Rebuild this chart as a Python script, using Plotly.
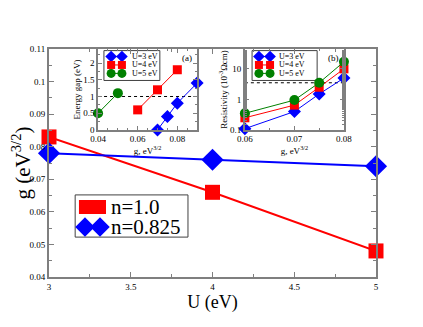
import plotly.graph_objects as go

# main panel: g versus U
U = [3, 4, 5]
g_n10 = [0.083, 0.066, 0.048]
g_n0825 = [0.078, 0.076, 0.074]
main_labels = ["n=1.0", "n=0.825"]

# inset (a): energy gap versus g
gap_g_U3 = [0.07, 0.075, 0.08, 0.09]
gap_U3 = [0.0, 0.4, 0.8, 1.4]
gap_g_U4 = [0.06, 0.07, 0.08]
gap_U4 = [0.6, 1.2, 1.8]
gap_g_U5 = [0.04, 0.05]
gap_U5 = [0.5, 1.1]
gap_ref = 1.0

# inset (b): resistivity versus g
res_g = [0.06, 0.07, 0.075, 0.08]
res_U3 = [0.11, 0.4, 1.5, 5.0]
res_U4 = [0.25, 0.65, 2.5, 10.0]
res_U5 = [0.35, 0.95, 3.5, 17.0]
res_ref = 3.5

inset_labels = ["U=3 eV", "U=4 eV", "U=5 eV"]

RED = "#ff0000"
BLUE = "#0000ff"
GREEN = "#008000"
FONT = "Liberation Serif"
FRAME = "#7f7f7f"

styles = [(BLUE, "diamond", 10), (RED, "square", 9), (GREEN, "circle", 10)]
main_styles = [(RED, "square", 15, 14), (BLUE, "diamond", 17, 15)]

fig = go.Figure()

# main traces
for ys, (col, sym, sz, _) in zip([g_n10, g_n0825], main_styles):
    fig.add_trace(go.Scatter(x=U, y=ys, mode="lines+markers",
                             line=dict(color=col, width=2),
                             marker=dict(symbol=sym, size=sz, color=col),
                             cliponaxis=False, showlegend=False))

# inset (a)
fig.add_trace(go.Scatter(x=[0.04, 0.09], y=[gap_ref, gap_ref], mode="lines",
                         line=dict(color="black", width=1, dash="dot"),
                         showlegend=False, xaxis="x2", yaxis="y2"))
for xs, ys, (col, sym, sz) in zip([gap_g_U3, gap_g_U4, gap_g_U5],
                                  [gap_U3, gap_U4, gap_U5], styles):
    fig.add_trace(go.Scatter(x=xs, y=ys, mode="lines+markers",
                             line=dict(color=col, width=1),
                             marker=dict(symbol=sym, size=sz, color=col),
                             cliponaxis=False, showlegend=False,
                             xaxis="x2", yaxis="y2"))

# inset (b)
fig.add_trace(go.Scatter(x=[0.06, 0.08], y=[res_ref, res_ref], mode="lines",
                         line=dict(color="black", width=1, dash="dot"),
                         showlegend=False, xaxis="x3", yaxis="y3"))
for ys, (col, sym, sz) in zip([res_U3, res_U4, res_U5], styles):
    fig.add_trace(go.Scatter(x=res_g, y=ys, mode="lines+markers",
                             line=dict(color=col, width=1),
                             marker=dict(symbol=sym, size=sz, color=col),
                             cliponaxis=False, showlegend=False,
                             xaxis="x3", yaxis="y3"))

# legends drawn by hand (overlay axis x4/y4 spans the plot area, range 0..1)
shapes = []
annotations = []

# main legend
shapes.append(dict(type="rect", xref="paper", yref="paper",
                   x0=0.080, x1=0.425, y0=0.175, y1=0.360,
                   line=dict(color="#404040", width=1), fillcolor="white",
                   layer="below"))
for yy, (kx0, kx1), lab, (col, sym, _, ksz) in zip([0.307, 0.219],
                                                   [(0.113, 0.153), (0.110, 0.156)],
                                                   main_labels, main_styles):
    fig.add_trace(go.Scatter(x=[kx0, kx1], y=[yy, yy], mode="lines+markers",
                             line=dict(color=col, width=3),
                             marker=dict(symbol=sym, size=ksz, color=col),
                             cliponaxis=False, showlegend=False,
                             xaxis="x4", yaxis="y4", hoverinfo="skip"))
    annotations.append(dict(text=lab, xref="paper", yref="paper", x=0.183, y=yy,
                            xanchor="left", yanchor="middle", showarrow=False,
                            font=dict(size=21)))

# inset legends
row_y = [0.967, 0.930, 0.893]
for (bx0, bx1, kx0, kx1, tx) in [(0.168, 0.339, 0.190, 0.223, 0.247),
                                 (0.621, 0.820, 0.642, 0.676, 0.697)]:
    shapes.append(dict(type="rect", xref="paper", yref="paper",
                       x0=bx0, x1=bx1, y0=0.862, y1=0.993,
                       line=dict(color="#404040", width=1), fillcolor="white",
                       layer="below"))
    for yy, lab, (col, sym, sz) in zip(row_y, inset_labels, styles):
        fig.add_trace(go.Scatter(x=[kx0, kx1], y=[yy, yy], mode="lines+markers",
                                 line=dict(color=col, width=1),
                                 marker=dict(symbol=sym, size=sz - 1, color=col),
                                 cliponaxis=False, showlegend=False,
                                 xaxis="x4", yaxis="y4", hoverinfo="skip"))
        annotations.append(dict(text=lab, xref="paper", yref="paper", x=tx, y=yy,
                                xanchor="left", yanchor="middle", showarrow=False,
                                font=dict(size=8)))

annotations += [
    dict(text="(a)", xref="x2 domain", yref="y2 domain", x=0.97, y=0.97,
         xanchor="right", yanchor="top", showarrow=False, font=dict(size=9)),
    dict(text="(b)", xref="x3 domain", yref="y3 domain", x=0.97, y=0.97,
         xanchor="right", yanchor="top", showarrow=False, font=dict(size=9)),
]

main_ax = dict(showline=True, linecolor=FRAME, linewidth=2, mirror="allticks",
               ticks="inside", ticklen=5, tickcolor=FRAME, showgrid=False,
               zeroline=False, automargin=False,
               tickfont=dict(size=9, family=FONT, color="black"))
inset_ax = dict(showline=True, linecolor=FRAME, linewidth=1.5, mirror="allticks",
                ticks="inside", ticklen=4, tickcolor=FRAME, showgrid=False,
                zeroline=False, automargin=False,
                tickfont=dict(size=9, family=FONT, color="black"))

# the page body keeps an 8px margin, so the figure is 8px smaller than the window
fig.update_layout(
    width=415, height=319,
    margin=dict(l=41, r=47, t=41, b=50),
    paper_bgcolor="white", plot_bgcolor="rgba(0,0,0,0)",
    font=dict(family=FONT, color="black"),
    showlegend=False,
    xaxis=dict(main_ax, domain=[0, 1], range=[3, 5], dtick=0.5,
               minor=dict(ticks="inside", ticklen=3, dtick=0.25, tickcolor=FRAME),
               title=dict(text="U (eV)", font=dict(size=18), standoff=2)),
    yaxis=dict(main_ax, domain=[0, 1], range=[0.04, 0.11], dtick=0.01,
               minor=dict(ticks="inside", ticklen=3, dtick=0.005, tickcolor=FRAME),
               title=dict(text="g (eV<sup>3/2</sup>)", font=dict(size=21), standoff=4)),
    xaxis2=dict(inset_ax, domain=[0.150, 0.453], anchor="y2", range=[0.04, 0.09],
                tickvals=[0.04, 0.06, 0.08], ticktext=["0.04", "0.06", "0.08"],
                minor=dict(ticks="inside", ticklen=2, dtick=0.005, tickcolor=FRAME),
                title=dict(text="g, eV<sup>3/2</sup>", font=dict(size=9), standoff=2)),
    yaxis2=dict(inset_ax, domain=[0.645, 1.0], anchor="x2", range=[0, 2.42],
                tickvals=[0, 0.5, 1, 1.5, 2], ticktext=["0", "0.5", "1", "1.5", "2"],
                minor=dict(ticks="inside", ticklen=2, dtick=0.25, tickcolor=FRAME),
                title=dict(text="Energy gap (eV)", font=dict(size=9), standoff=1)),
    xaxis3=dict(inset_ax, domain=[0.599, 0.902], anchor="y3", range=[0.06, 0.08],
                tickvals=[0.06, 0.07, 0.08], ticktext=["0.06", "0.07", "0.08"],
                minor=dict(ticks="inside", ticklen=2, dtick=0.005, tickcolor=FRAME),
                title=dict(text="g, eV<sup>3/2</sup>", font=dict(size=9), standoff=2)),
    yaxis3=dict(inset_ax, domain=[0.645, 1.0], anchor="x3", type="log",
                range=[-1, 1.65], tickvals=[0.1, 1, 10], ticktext=["0.1", "1", "10"],
                minor=dict(ticks="inside", ticklen=2, tickcolor=FRAME),
                title=dict(text="Resistivity (10<sup>-3</sup>Ωcm)", font=dict(size=9), standoff=1)),
    xaxis4=dict(domain=[0, 1], range=[0, 1], visible=False, overlaying="x", anchor="y4"),
    yaxis4=dict(domain=[0, 1], range=[0, 1], visible=False, overlaying="y", anchor="x4"),
    shapes=shapes,
    annotations=annotations,
)

fig.write_html("out.html")
